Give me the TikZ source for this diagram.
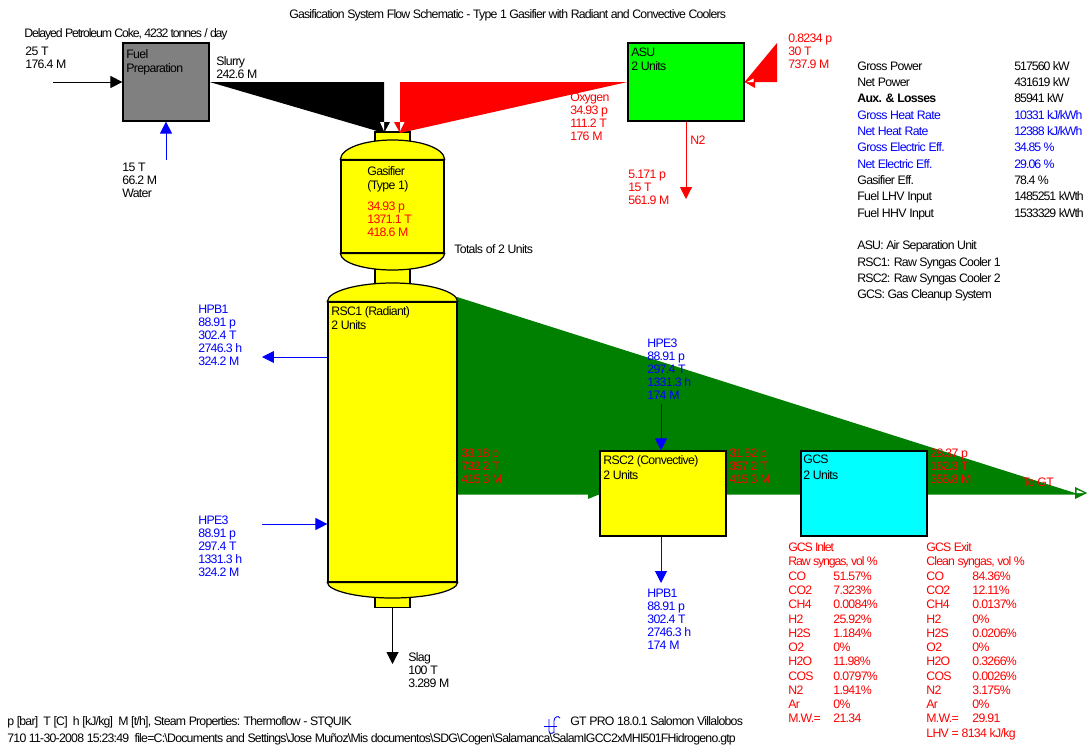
\documentclass[tikz,border=0pt]{standalone}
\usepackage{fontspec}
\setmainfont[LetterSpace=-5.5]{Liberation Sans}
\usetikzlibrary{arrows.meta}
\definecolor{gasgreen}{RGB}{0,128,0}
\definecolor{airgreen}{RGB}{0,255,0}
\definecolor{vesselyellow}{RGB}{255,255,0}
\definecolor{gcscyan}{RGB}{0,255,255}
\definecolor{flowred}{RGB}{255,0,0}
\definecolor{flowblue}{RGB}{0,0,255}
\tikzset{
  lbl/.style={inner sep=0pt,anchor=north west,align=left,yshift=2.3pt,
    font=\fontsize{7}{7.37}\selectfont,execute at begin node=\strut},
  squeeze/.style={font=\fontsize{7}{7.37}\selectfont\addfontfeature{LetterSpace=#1}},
  unitbox/.style={draw=black,line width=0.7pt,inner sep=0pt},
  flow/.style={line width=0.55pt,-{Triangle[length=6.8pt,width=6.8pt]}},
}
\begin{document}
\begin{tikzpicture}[x=0.02cm,y=-0.02cm]
        \useasboundingbox (0,0) rectangle (1087,747);
        % main gas stream
        \coordinate (synstart) at (457,297);
        \coordinate (syntip) at (1087,493);
        \coordinate (synbase) at (457,494.5);
        \fill[gasgreen] (synstart) -- (1075,493) -- (syntip) -- (1075,494.5) -- (synbase) -- cycle;
        \fill[gasgreen] (1075,487) -- (syntip) -- (1075,499) -- cycle;
        \fill[white] (1076.5,489.5) -- (1084,493) -- (1076.5,493) -- cycle;
        \fill[gasgreen] (588,494) -- (600,494) -- (588,499) -- cycle;
        % vessels
        \node[unitbox,fill=vesselyellow,minimum width=0.7cm,minimum height=0.24cm] (gastop) at (392.5,138) {};
        \node[unitbox,fill=vesselyellow,minimum width=0.7cm,minimum height=0.5cm] (gasneck) at (392.5,276) {};
        \node[unitbox,fill=vesselyellow,minimum width=0.7cm,minimum height=0.26cm] (rscneck) at (392.5,601) {};
        \node[unitbox,fill=vesselyellow,minimum width=2.06cm,minimum height=1.86cm] (gasifier) at (392.5,206.5) {};
        \draw[fill=vesselyellow,line width=0.7pt] (gasifier.north west) .. controls (341,148) and (365,140) .. (392.5,140) .. controls (420,140) and (444,148) .. (gasifier.north east) -- cycle;
        \draw[fill=vesselyellow,line width=0.7pt] (gasifier.south west) .. controls (341,263) and (365,270) .. (392.5,270) .. controls (420,270) and (444,263) .. (gasifier.south east) -- cycle;
        \node[unitbox,fill=vesselyellow,minimum width=2.58cm,minimum height=5.6cm] (rsc1) at (392.5,442) {};
        \draw[fill=vesselyellow,line width=0.7pt] (rsc1.north west) .. controls (328,291) and (358,283) .. (392.5,283) .. controls (427,283) and (457,291) .. (rsc1.north east) -- cycle;
        \draw[fill=vesselyellow,line width=0.7pt] (rsc1.south west) .. controls (328,591) and (358,598) .. (392.5,598) .. controls (427,598) and (457,591) .. (rsc1.south east) -- cycle;
        % units
        \node[unitbox,fill=gray,minimum width=1.72cm,minimum height=1.56cm] (fuel) at (166,82) {};
        \node[unitbox,fill=airgreen,minimum width=2.32cm,minimum height=1.56cm] (asu) at (686,82) {};
        \node[unitbox,fill=vesselyellow,minimum width=2.52cm,minimum height=1.70cm] (rsc2) at (663,493.5) {};
        \node[unitbox,fill=gcscyan,minimum width=2.52cm,minimum height=1.70cm] (gcs) at (864,493.5) {};
        % slurry and oxygen
        \coordinate (slurrytop) at (384,82);
        \coordinate (slurrytip) at (384,133);
        \fill[black] (fuel.east) -- (slurrytop) -- (slurrytip) -- cycle;
        \fill[black] (378,122) -- (390,122) -- (slurrytip) -- cycle;
        \fill[white] (380,122) -- (384,122) -- (384,131) -- cycle;
        \coordinate (oxytop) at (400,82);
        \coordinate (oxytip) at (400,133);
        \fill[flowred] (asu.west) -- (oxytop) -- (oxytip) -- cycle;
        \fill[flowred] (394,122) -- (406,122) -- (oxytip) -- cycle;
        \fill[white] (400,122) -- (404.5,122) -- (400,131) -- cycle;
        % air
        \coordinate (airtop) at (777,43);
        \coordinate (airbase) at (777,82);
        \fill[flowred] (airtop) -- (airbase) -- (asu.east) -- cycle;
        \fill[flowred] (755,76) -- (asu.east) -- (755,88) -- cycle;
        \fill[white] (753.5,78.5) -- (747,82) -- (753.5,82) -- cycle;
        % single line streams
        \coordinate (cokein) at (53,82);
        \coordinate (waterin) at (166,160);
        \coordinate (n2out) at (686,199);
        \coordinate (slagout) at (392.5,664);
        \coordinate (hpb1out) at (262,357);
        \coordinate (hpe3in) at (262,524);
        \coordinate (hpe3top) at (661,404);
        \coordinate (hpb1bot) at (661,583);
        \draw[flow] (cokein) -- (fuel.west);
        \draw[flow,flowblue] (waterin) -- (fuel.south);
        \draw[flow,flowred] (asu.south) -- (n2out);
        \draw[flow] (rscneck.south) -- (slagout);
        \draw[flow,flowblue] (hpe3top) -- (hpe3top |- rsc2.north);
        \draw[flow,flowblue] (hpe3top |- rsc2.south) -- (hpb1bot);
        \draw[flow,flowblue] (rsc1.west |- hpb1out) -- (hpb1out);
        \draw[flow,flowblue] (hpe3in) -- (rsc1.west |- hpe3in);
        % logo
        \draw[flowblue,line width=0.5pt] (544,726) -- (557,726);
        \draw[flowblue,line width=0.5pt] (549,719) -- (549,731) .. controls (549,734) and (552,734) .. (554,732);
        \draw[flowblue,line width=0.5pt] (554,733) -- (554,721) .. controls (554,717) and (558,715) .. (560,718);
        % labels
        \node[lbl,squeeze=-6.6] (title) at (289,13) {Gasification System Flow Schematic - Type 1 Gasifier with Radiant and Convective Coolers};
        \node[lbl,squeeze=-9.1] (coke) at (24,32) {Delayed Petroleum Coke, 4232 tonnes / day};
        \node[lbl] (cokedata) at (25,51) {25 T\\176.4 M};
        \node[lbl] (fueltxt) at (126,53) {Fuel\\[0.5pt]Preparation};
        \node[lbl] (slurry) at (216,60) {Slurry\\242.6 M};
        \node[lbl] (water) at (122,167) {15 T\\66.2 M\\Water};
        \node[lbl] (gastxt) at (367,170) {Gasifier\\[0.5pt](Type 1)};
        \node[lbl,flowred] (gasdata) at (367,206) {34.93 p\\1371.1 T\\418.6 M};
        \node[lbl] (totals) at (454,248) {Totals of 2 Units};
        \node[lbl] (asutxt) at (631,52) {ASU\\[0.5pt]2 Units};
        \node[lbl,flowred] (oxy) at (570,97) {Oxygen\\34.93 p\\111.2 T\\176 M};
        \node[lbl,flowred] (air) at (788,38) {0.8234 p\\30 T\\737.9 M};
        \node[lbl,flowred] (n2) at (690,139) {N2};
        \node[lbl,flowred] (n2data) at (628,174) {5.171 p\\15 T\\561.9 M};
        \node[lbl] (rsc1txt) at (331,310) {RSC1 (Radiant)\\[1pt]2 Units};
        \node[lbl,flowblue] (hpb1l) at (198,309) {HPB1\\88.91 p\\302.4 T\\2746.3 h\\324.2 M};
        \node[lbl,flowblue] (hpe3l) at (198,520) {HPE3\\88.91 p\\297.4 T\\1331.3 h\\324.2 M};
        \node[lbl,flowblue] (hpe3t) at (647,343) {HPE3\\88.91 p\\297.4 T\\1331.3 h\\174 M};
        \node[lbl,flowblue] (hpb1b) at (647,593) {HPB1\\88.91 p\\302.4 T\\2746.3 h\\174 M};
        \node[lbl,flowred] (rsc1out) at (461,453) {33.18 p\\732.2 T\\415.3 M};
        \node[lbl,flowred] (rsc2out) at (729,453) {31.52 p\\357.2 T\\415.3 M};
        \node[lbl,flowred] (gcsout) at (930,453) {28.37 p\\162.3 T\\355.8 M};
        \node[lbl,flowred] (togt) at (1022,481) {To GT};
        \node[lbl] (rsc2txt) at (603,459) {RSC2 (Convective)\\[1.5pt]2 Units};
        \node[lbl] (gcstxt) at (803,459) {GCS\\[1.5pt]2 Units};
        \node[lbl] (slag) at (408,656) {Slag\\100 T\\3.289 M};
        \node[lbl,squeeze=-6.5] (units) at (7,720) {p [bar]~~T [C]~~h [kJ/kg]~~M [t/h], Steam Properties: Thermoflow - STQUIK};
        \node[lbl,squeeze=-6.2] (runinfo) at (7,737) {710 11-30-2008 15:23:49~~file=C:\textbackslash Documents and Settings\textbackslash Jose Muñoz\textbackslash Mis documentos\textbackslash SDG\textbackslash Cogen\textbackslash Salamanca\textbackslash SalamIGCC2xMHI501FHidrogeno.gtp};
        \node[lbl,squeeze=-6] (gtpro) at (570,720) {GT PRO 18.0.1 Salomon Villalobos};
        % performance summary
        \foreach \y/\c/\a/\b in {65/black/Gross Power/517560 kW, 81/black/Net Power/431619 kW,
            97/black/{\bfseries Aux. \& Losses}/85941 kW, 114/flowblue/Gross Heat Rate/{10331 kJ/kWh},
            130/flowblue/Net Heat Rate/{12388 kJ/kWh}, 146/flowblue/Gross Electric Eff./34.85 \%,
            163/flowblue/Net Electric Eff./29.06 \%, 179/black/Gasifier Eff./78.4 \%,
            195/black/Fuel LHV Input/1485251 kWth, 212/black/Fuel HHV Input/1533329 kWth} {
            \node[lbl,\c] (perf\y) at (857,\y) {\a};
            \node[lbl,squeeze=-8,\c] (val\y) at (1014,\y) {\b};
        }
        \foreach \y/\a in {244/ASU: Air Separation Unit, 261/RSC1: Raw Syngas Cooler 1,
            277/RSC2: Raw Syngas Cooler 2, 293/GCS: Gas Cleanup System} {
            \node[lbl,squeeze=-6.5] (abbr\y) at (857,\y) {\a};
        }
        % syngas composition
        \node[lbl,squeeze=-9,flowred] (inhead) at (788,546) {GCS Inlet\\[1pt]Raw syngas, vol \%};
        \node[lbl,squeeze=-7,flowred] (exhead) at (926,546) {GCS Exit\\[1pt]Clean syngas, vol \%};
        \foreach \y/\s/\a/\b in {575/CO/51.57\%/84.36\%, 589/CO2/7.323\%/12.11\%, 603/CH4/0.0084\%/0.0137\%,
            618/H2/25.92\%/0\%, 632/H2S/1.184\%/0.0206\%, 646/O2/0\%/0\%, 660/H2O/11.98\%/0.3266\%,
            675/COS/0.0797\%/0.0026\%, 689/N2/1.941\%/3.175\%, 703/Ar/0\%/0\%, 717/M.W.=/21.34/29.91} {
            \node[lbl,flowred] (ins\y) at (788,\y) {\s};
            \node[lbl,flowred] (inv\y) at (833,\y) {\a};
            \node[lbl,flowred] (exs\y) at (926,\y) {\s};
            \node[lbl,flowred] (exv\y) at (972,\y) {\b};
        }
        \node[lbl,flowred] (lhv) at (926,732) {LHV = 8134 kJ/kg};
    \end{tikzpicture}
\end{document}
